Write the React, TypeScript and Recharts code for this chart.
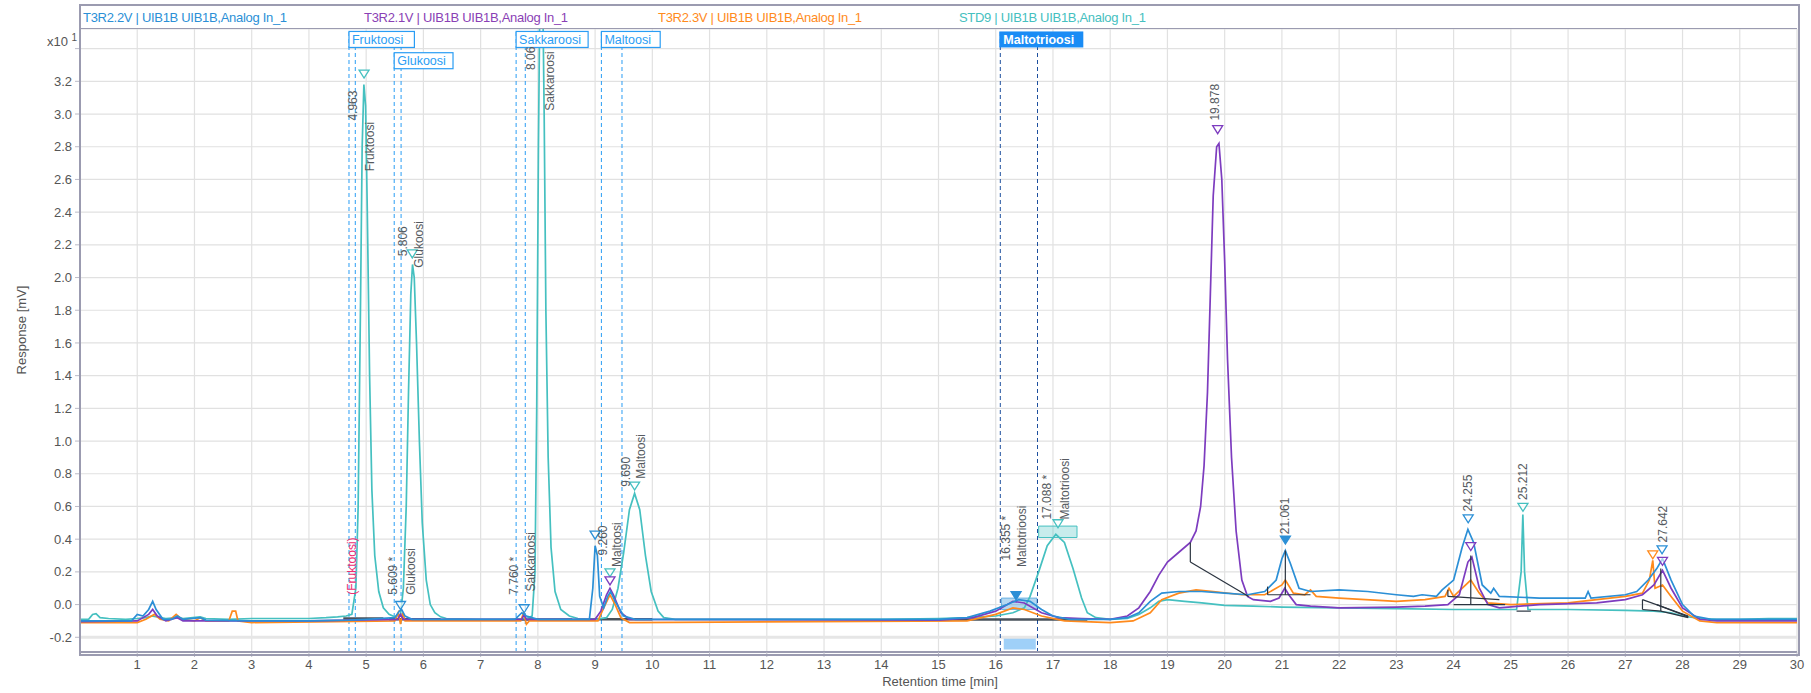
import {
  CartesianGrid,
  Line,
  LineChart,
  ReferenceArea,
  ReferenceDot,
  ReferenceLine,
  XAxis,
  YAxis,
} from "recharts";

// retention time [min], response [x10 mV]
const t3r22v: [number, number][] = [
  [0, -0.1], [0.9, -0.1], [1.0, -0.06], [1.1, -0.07], [1.2, -0.03], [1.27, 0.02], [1.33, -0.03],
  [1.45, -0.09], [1.6, -0.09], [1.7, -0.07], [1.8, -0.09], [2.1, -0.08], [2.2, -0.095], [3, -0.1],
  [4, -0.1], [4.7, -0.095], [5.0, -0.09], [5.5, -0.08], [5.58, -0.04], [5.62, -0.03], [5.68, -0.07],
  [5.8, -0.09], [7.6, -0.09], [7.72, -0.05], [7.8, -0.07], [8.0, -0.09], [8.9, -0.09], [8.96, 0.1],
  [9.0, 0.36], [9.04, 0.3], [9.08, 0.05], [9.15, -0.02], [9.22, 0.05], [9.27, 0.08], [9.35, 0.02],
  [9.5, -0.07], [9.7, -0.09], [15, -0.09], [15.5, -0.08], [15.9, -0.04], [16.2, 0.0], [16.4, 0.03],
  [16.6, 0.02], [16.8, -0.03], [17.0, -0.07], [17.3, -0.09], [18.0, -0.09], [18.3, -0.08],
  [18.5, -0.05], [18.7, 0.02], [18.9, 0.07], [19.2, 0.08], [19.6, 0.08], [20.0, 0.07], [20.4, 0.06],
  [20.7, 0.08], [20.9, 0.15], [21.0, 0.28], [21.06, 0.33], [21.15, 0.25], [21.3, 0.1], [21.5, 0.08],
  [22, 0.09], [22.5, 0.08], [23, 0.06], [23.3, 0.05], [23.45, 0.06], [23.7, 0.05], [23.8, 0.09],
  [24.0, 0.15], [24.15, 0.35], [24.25, 0.46], [24.35, 0.38], [24.5, 0.12], [24.65, 0.07], [24.7, 0.1],
  [24.8, 0.05], [25.5, 0.04], [26.3, 0.04], [26.35, 0.08], [26.4, 0.04], [27.0, 0.06], [27.2, 0.08],
  [27.4, 0.15], [27.55, 0.22], [27.65, 0.28], [27.8, 0.15], [28.0, 0.0], [28.2, -0.07], [28.5, -0.09],
  [30, -0.09],
];

const t3r21v: [number, number][] = [
  [0, -0.105], [1.0, -0.1], [1.2, -0.06], [1.27, -0.03], [1.35, -0.07], [1.5, -0.1], [1.7, -0.08],
  [1.8, -0.1], [4, -0.1], [5.55, -0.09], [5.6, -0.06], [5.65, -0.09], [7.72, -0.09], [7.76, -0.06],
  [7.8, -0.09], [9.0, -0.09], [9.1, -0.04], [9.2, 0.06], [9.26, 0.1], [9.32, 0.06], [9.45, -0.05],
  [9.6, -0.09], [15, -0.095], [15.6, -0.08], [16.0, -0.04], [16.3, 0.02], [16.5, 0.01], [16.8, -0.05],
  [17.1, -0.08], [17.5, -0.085], [18.0, -0.09], [18.3, -0.07], [18.5, -0.02], [18.7, 0.08],
  [18.85, 0.18], [19.0, 0.26], [19.2, 0.32], [19.4, 0.38], [19.5, 0.45], [19.58, 0.6], [19.64, 0.85],
  [19.7, 1.3], [19.75, 1.9], [19.8, 2.5], [19.86, 2.8], [19.9, 2.82], [19.95, 2.6], [20.0, 2.1],
  [20.05, 1.5], [20.12, 0.9], [20.2, 0.45], [20.3, 0.15], [20.4, 0.05], [20.5, 0.03], [20.8, 0.02],
  [20.95, 0.04], [21.05, 0.1], [21.12, 0.06], [21.25, 0.0], [21.5, -0.01], [22, -0.02], [23, -0.015],
  [23.5, -0.01], [23.9, 0.0], [24.1, 0.06], [24.25, 0.26], [24.32, 0.29], [24.45, 0.1], [24.6, 0.0],
  [24.8, -0.02], [25.5, 0.0], [26.5, 0.01], [27.0, 0.03], [27.3, 0.06], [27.5, 0.12], [27.65, 0.21],
  [27.8, 0.1], [28.0, -0.02], [28.3, -0.09], [28.6, -0.1], [30, -0.1],
];

const t3r23v: [number, number][] = [
  [0, -0.11], [1.0, -0.11], [1.15, -0.09], [1.3, -0.06], [1.4, -0.09], [1.55, -0.1], [1.68, -0.06],
  [1.78, -0.09], [2.0, -0.1], [2.1, -0.08], [2.2, -0.1], [2.6, -0.1], [2.66, -0.04], [2.72, -0.04],
  [2.76, -0.1], [3.0, -0.11], [5.5, -0.1], [5.56, -0.05], [5.6, -0.12], [5.64, -0.05], [5.68, -0.1],
  [7.7, -0.1], [7.75, -0.05], [7.8, -0.12], [7.85, -0.1], [9.05, -0.1], [9.15, -0.02], [9.26, 0.06],
  [9.35, 0.0], [9.45, -0.08], [9.6, -0.11], [15.5, -0.1], [16.0, -0.06], [16.3, -0.02], [16.5, -0.03],
  [16.8, -0.07], [17.2, -0.1], [18.0, -0.11], [18.4, -0.1], [18.7, -0.05], [18.9, 0.03], [19.2, 0.07],
  [19.5, 0.09], [19.8, 0.08], [20.3, 0.06], [20.7, 0.06], [21.0, 0.12], [21.06, 0.15], [21.2, 0.07],
  [21.4, 0.06], [21.5, 0.09], [21.6, 0.05], [22, 0.04], [23, 0.02], [23.5, 0.03], [23.85, 0.05],
  [23.92, 0.1], [24.0, 0.05], [24.3, 0.15], [24.45, 0.07], [24.6, 0.01], [25, 0.0], [26, 0.01],
  [27.0, 0.05], [27.3, 0.07], [27.42, 0.15], [27.48, 0.27], [27.52, 0.1], [27.65, 0.12], [27.8, 0.05],
  [28.0, -0.04], [28.3, -0.1], [28.6, -0.11], [30, -0.11],
];

const std9: [number, number][] = [
  [0, -0.09], [0.15, -0.09], [0.22, -0.06], [0.28, -0.055], [0.35, -0.08], [0.5, -0.085], [0.8, -0.09],
  [1.0, -0.085], [1.15, -0.08], [1.25, -0.07], [1.35, -0.075], [1.5, -0.085], [1.7, -0.08], [1.8, -0.085],
  [2.1, -0.075], [2.2, -0.085], [2.6, -0.09], [3.0, -0.085], [4.0, -0.085], [4.3, -0.08], [4.5, -0.075],
  [4.65, -0.07], [4.75, -0.06], [4.82, 0.1], [4.86, 0.6], [4.9, 1.8], [4.93, 2.8], [4.96, 3.18],
  [4.99, 3.05], [5.02, 2.4], [5.06, 1.4], [5.1, 0.7], [5.15, 0.3], [5.22, 0.08], [5.3, -0.02],
  [5.4, -0.06], [5.5, -0.075], [5.6, -0.06], [5.65, 0.1], [5.7, 0.6], [5.74, 1.3], [5.78, 1.9],
  [5.81, 2.08], [5.84, 2.0], [5.88, 1.6], [5.93, 1.0], [5.98, 0.5], [6.05, 0.15], [6.12, 0.0],
  [6.2, -0.05], [6.3, -0.075], [6.4, -0.085], [7.0, -0.09], [7.5, -0.09], [7.8, -0.085], [7.9, -0.07],
  [7.95, 0.2], [7.98, 1.2], [8.01, 2.8], [8.04, 3.9], [8.08, 3.9], [8.11, 3.0], [8.14, 1.8], [8.18, 0.9],
  [8.23, 0.35], [8.3, 0.08], [8.4, -0.03], [8.55, -0.07], [8.7, -0.085], [9.0, -0.09], [9.2, -0.08],
  [9.3, -0.03], [9.4, 0.1], [9.5, 0.32], [9.6, 0.58], [9.69, 0.68], [9.78, 0.58], [9.88, 0.3],
  [9.98, 0.08], [10.1, -0.04], [10.2, -0.08], [10.4, -0.09], [11, -0.09], [12, -0.09], [13, -0.09],
  [14, -0.09], [15, -0.085], [15.5, -0.08], [16.0, -0.07], [16.3, -0.05], [16.5, -0.02], [16.6, 0.05],
  [16.75, 0.2], [16.9, 0.36], [17.05, 0.43], [17.2, 0.38], [17.35, 0.22], [17.5, 0.04], [17.6, -0.05],
  [17.75, -0.08], [18, -0.09], [18.3, -0.085], [18.5, -0.06], [18.7, -0.02], [18.85, 0.02], [19.0, 0.03],
  [19.3, 0.02], [19.6, 0.01], [20.0, -0.005], [20.5, -0.01], [21.0, -0.015], [22, -0.02], [23, -0.025],
  [24, -0.03], [25.1, -0.03], [25.18, 0.2], [25.21, 0.55], [25.24, 0.2], [25.3, -0.03], [26, -0.03],
  [27, -0.035], [27.5, -0.04], [27.8, -0.05], [28.0, -0.07], [28.3, -0.085], [28.6, -0.09], [29, -0.09],
  [29.5, -0.085], [30, -0.085],
];

const seriesNames = [
  "T3R2.2V | UIB1B UIB1B,Analog In_1",
  "T3R2.1V | UIB1B UIB1B,Analog In_1",
  "T3R2.3V | UIB1B UIB1B,Analog In_1",
  "STD9 | UIB1B UIB1B,Analog In_1",
];

const xTicks = [1, 2, 3, 4, 5, 6, 7, 8, 9, 10, 11, 12, 13, 14, 15, 16, 17, 18, 19, 20, 21, 22, 23, 24, 25, 26, 27, 28, 29, 30];
const xMinorTicks = [0.5, 1.5, 2.5, 3.5, 4.5, 5.5, 6.5, 7.5, 8.5, 9.5, 10.5, 11.5, 12.5, 13.5, 14.5, 15.5, 16.5, 17.5, 18.5, 19.5, 20.5, 21.5, 22.5, 23.5, 24.5, 25.5, 26.5, 27.5, 28.5, 29.5];
const yTicks = [-0.2, 0, 0.2, 0.4, 0.6, 0.8, 1.0, 1.2, 1.4, 1.6, 1.8, 2.0, 2.2, 2.4, 2.6, 2.8, 3.0, 3.2, 3.4];
const yMinorTicks = [-0.1, 0.1, 0.3, 0.5, 0.7, 0.9, 1.1, 1.3, 1.5, 1.7, 1.9, 2.1, 2.3, 2.5, 2.7, 2.9, 3.1, 3.3];

// compound windows: [name, from, to, row]
const windows: [string, number, number, number][] = [
  ["Fruktoosi", 4.7, 4.81, 0],
  ["Glukoosi", 5.49, 5.61, 1],
  ["Sakkaroosi", 7.62, 7.78, 0],
  ["Maltoosi", 9.11, 9.47, 0],
];
const activeWindow: [string, number, number] = ["Maltotrioosi", 16.08, 16.73];

// rotated peak labels: [text, time, response at text start, colour key]
const peakLabels: [string, number, number, string][] = [
  ["4.963", 4.77, 2.96, "gray"],
  ["Fruktoosi", 5.07, 2.65, "gray"],
  ["5.806", 5.63, 2.13, "gray"],
  ["Glukoosi", 5.91, 2.06, "gray"],
  ["8.06", 7.87, 3.27, "gray"],
  ["Sakkaroosi", 8.2, 3.02, "gray"],
  ["9.690", 9.53, 0.72, "gray"],
  ["Maltoosi", 9.79, 0.77, "gray"],
  ["9.260", 9.14, 0.3, "gray"],
  ["Maltoosi", 9.37, 0.23, "gray"],
  ["5.609 *", 5.47, 0.06, "gray"],
  ["Glukoosi", 5.77, 0.06, "gray"],
  ["7.760 *", 7.57, 0.06, "gray"],
  ["Sakkaroosi", 7.87, 0.08, "gray"],
  ["(Fruktoosi)", 4.74, 0.06, "pink"],
  ["16.355 *", 16.17, 0.27, "gray"],
  ["Maltotrioosi", 16.45, 0.23, "gray"],
  ["17.088 *", 16.89, 0.52, "gray"],
  ["Maltotrioosi", 17.2, 0.52, "gray"],
  ["19.878", 19.83, 2.96, "gray"],
  ["21.061", 21.05, 0.43, "gray"],
  ["24.255", 24.25, 0.57, "gray"],
  ["25.212", 25.21, 0.64, "gray"],
  ["27.642", 27.66, 0.38, "gray"],
];

// peak apex markers: [time, response, colour key, filled]
const peakMarkers: [number, number, string, boolean][] = [
  [4.963, 3.22, "teal", false],
  [5.806, 2.12, "teal", false],
  [9.69, 0.7, "teal", false],
  [17.088, 0.47, "teal", false],
  [25.212, 0.57, "teal", false],
  [19.878, 2.88, "purple", false],
  [24.3, 0.33, "purple", false],
  [27.65, 0.24, "purple", false],
  [21.061, 0.37, "blue", true],
  [24.255, 0.5, "blue", false],
  [27.642, 0.31, "blue", false],
  [16.355, 0.03, "blue", true],
  [9.0, 0.4, "blue", false],
  [27.48, 0.28, "orange", false],
  [5.6, -0.03, "blue", false],
  [7.76, -0.05, "blue", false],
  [9.26, 0.17, "teal", false],
  [9.26, 0.12, "purple", false],
];

// integration baselines: [t1, r1, t2, r2]
const baselines: [number, number, number, number][] = [
  [19.4, 0.38, 19.4, 0.26], [19.4, 0.26, 20.42, 0.05],
  [21.06, 0.33, 21.06, 0.06], [20.75, 0.06, 21.5, 0.06], [20.75, 0.06, 20.75, 0.11],
  [24.3, 0.3, 24.3, 0.0], [23.9, 0.05, 24.8, 0.03], [24.0, 0.0, 24.9, 0.0], [23.9, 0.05, 23.9, 0.09],
  [25.1, -0.04, 25.35, -0.04],
  [27.62, 0.22, 27.62, -0.04], [27.3, 0.03, 27.3, -0.03], [27.3, -0.03, 27.62, -0.04],
  [27.3, 0.03, 28.1, -0.07], [27.62, -0.04, 28.1, -0.08], [27.55, 0.0, 28.1, -0.075],
];
const baseBands: [number, number, number][] = [
  [4.6, 5.3, -0.085], [5.4, 6.3, -0.09], [7.6, 8.6, -0.092], [8.9, 10.0, -0.09], [15.0, 17.6, -0.092],
];

const colors: Record<string, string> = {
  blue: "#2b8fd6",
  purple: "#7d3cbf",
  orange: "#ff8a1c",
  teal: "#45c0c0",
  gray: "#555a60",
  pink: "#ee2f72",
};
const legendColors = [colors.blue, "#8a3fb5", colors.orange, colors.teal];
const boxBlue = "#2a9df4";
const font = "'Liberation Sans', Arial, sans-serif";

const rows = (s: [number, number][]) => s.map(([t, v]) => ({ t, v }));

const W = 1811;
const H = 693;
const plotLeft = 80;
const plotRight = 1797;
const plotTop = 29;
const plotBottom = 652;

export default function App() {
  return (
    <div style={{ position: "relative", width: W, height: H, fontFamily: font, background: "#fff" }}>
      <style>{"body{margin:0}"}</style>
      <LineChart
        width={W}
        height={H}
        margin={{ top: plotTop, right: W - plotRight, bottom: 11, left: plotLeft - 60 }}
      >
        <CartesianGrid stroke="#e1e1e1" strokeWidth={1.2} />
        <XAxis
          dataKey="t"
          type="number"
          domain={[0, 30]}
          ticks={xTicks}
          height={30}
          tickSize={5}
          tickMargin={3}
          allowDataOverflow
          axisLine={{ stroke: "#9b9bb0", strokeWidth: 2 }}
          tickLine={{ stroke: "#bbbbc8" }}
          tick={{ fill: "#555", fontSize: 13, fontFamily: font }}
        />
        <XAxis
          xAxisId="minor"
          dataKey="t"
          type="number"
          domain={[0, 30]}
          ticks={xMinorTicks}
          height={0}
          tickSize={4}
          tick={false}
          axisLine={false}
          tickLine={{ stroke: "#bbbbc8" }}
        />
        <YAxis
          type="number"
          domain={[-0.29, 3.52]}
          ticks={yTicks}
          width={60}
          allowDataOverflow
          tickSize={5}
          tickMargin={3}
          axisLine={{ stroke: "#9b9bb0", strokeWidth: 2 }}
          tickLine={{ stroke: "#bbbbc8" }}
          tickFormatter={(v: number) => (v > 3.3 ? "" : v.toFixed(1))}
          tick={{ fill: "#555", fontSize: 13, fontFamily: font }}
        />
        <YAxis
          yAxisId="minor"
          type="number"
          domain={[-0.29, 3.52]}
          ticks={yMinorTicks}
          width={0}
          tickSize={3}
          tick={false}
          axisLine={false}
          tickLine={{ stroke: "#bbbbc8" }}
        />
        <ReferenceLine y={-0.2} stroke="#e6e6e6" strokeWidth={3} />

        {windows.map(([name, from, to]) => [
          <ReferenceLine key={name + "a"} x={from} stroke={boxBlue} strokeDasharray="4 3" />,
          <ReferenceLine key={name + "b"} x={to} stroke={boxBlue} strokeDasharray="4 3" />,
        ])}
        <ReferenceLine x={activeWindow[1]} stroke="#1d4f9e" strokeDasharray="4 3" />
        <ReferenceLine x={activeWindow[2]} stroke="#1d4f9e" strokeDasharray="4 3" />

        <ReferenceArea x1={16.14} x2={16.7} y1={-0.275} y2={-0.2} fill="#9fd0f8" fillOpacity={1} stroke="none" />
        <ReferenceArea x1={16.1} x2={16.72} y1={-0.03} y2={0.04} fill={colors.blue} fillOpacity={0.35} stroke={colors.blue} strokeOpacity={0.6} />
        <ReferenceArea x1={16.75} x2={17.42} y1={0.41} y2={0.48} fill={colors.teal} fillOpacity={0.3} stroke={colors.teal} />

        {baseBands.map(([a, b, y], i) => (
          <ReferenceLine key={"band" + i} segment={[{ x: a, y }, { x: b, y }]} stroke="#1c2733" strokeWidth={2.5} strokeOpacity={0.8} />
        ))}

        <Line data={rows(std9)} dataKey="v" type="linear" stroke={colors.teal} strokeWidth={1.7} dot={false} isAnimationActive={false} />
        <Line data={rows(t3r23v)} dataKey="v" type="linear" stroke={colors.orange} strokeWidth={1.7} dot={false} isAnimationActive={false} />
        <Line data={rows(t3r21v)} dataKey="v" type="linear" stroke={colors.purple} strokeWidth={1.7} dot={false} isAnimationActive={false} />
        <Line data={rows(t3r22v)} dataKey="v" type="linear" stroke={colors.blue} strokeWidth={1.7} dot={false} isAnimationActive={false} />

        {baselines.map(([t1, r1, t2, r2], i) => (
          <ReferenceLine key={"bl" + i} segment={[{ x: t1, y: r1 }, { x: t2, y: r2 }]} stroke="#2b3440" strokeWidth={1.2} />
        ))}

        {peakMarkers.map(([t, v, c, filled], i) => (
          <ReferenceDot
            key={"pm" + i}
            x={t}
            y={v}
            r={0}
            ifOverflow="visible"
            shape={(p: any) => (
              <path
                d={`M${p.cx - 5},${p.cy - 8}L${p.cx + 5},${p.cy - 8}L${p.cx},${p.cy}Z`}
                fill={filled ? colors[c] : "#fff"}
                fillOpacity={filled ? 1 : 0.6}
                stroke={colors[c]}
                strokeWidth={1.3}
              />
            )}
          />
        ))}

        {windows.map(([name, from, , row]) => (
          <ReferenceDot
            key={"box" + name}
            x={from}
            y={3.505 - row * 0.13}
            r={0}
            ifOverflow="visible"
            shape={(p: any) => (
              <g>
                <rect x={p.cx} y={p.cy} width={name.length * 6.6 + 6} height={16} fill="#fff" stroke={boxBlue} strokeWidth={1.2} />
                <text x={p.cx + 3} y={p.cy + 12.5} fontSize={12.5} fontFamily={font} fill={boxBlue}>
                  {name}
                </text>
              </g>
            )}
          />
        ))}
        <ReferenceDot
          x={activeWindow[1]}
          y={3.505}
          r={0}
          ifOverflow="visible"
          shape={(p: any) => (
            <g>
              <rect x={p.cx - 1} y={p.cy} width={84} height={16} fill="#1a8cf5" />
              <text x={p.cx + 3} y={p.cy + 12.5} fontSize={12.5} fontWeight="bold" fontFamily={font} fill="#fff">
                {activeWindow[0]}
              </text>
            </g>
          )}
        />

        {peakLabels.map(([text, t, v, c], i) => (
          <ReferenceDot
            key={"pl" + i}
            x={t}
            y={v}
            r={0}
            ifOverflow="visible"
            shape={(p: any) => (
              <text
                x={p.cx}
                y={p.cy}
                dy="0.36em"
                transform={`rotate(-90 ${p.cx} ${p.cy})`}
                fontSize={12}
                fontFamily={font}
                fill={colors[c]}
              >
                {text}
              </text>
            )}
          />
        ))}
      </LineChart>

      {/* frame and legend band */}
      <div
        style={{
          position: "absolute",
          left: plotLeft - 1,
          top: 4,
          width: plotRight - plotLeft,
          height: plotBottom - 4,
          border: "2px solid #9b9bb0",
          pointerEvents: "none",
        }}
      />
      <div style={{ position: "absolute", left: plotLeft, top: plotTop - 1, width: plotRight - plotLeft, height: 0, borderTop: "1.5px solid #9b9bb0" }} />
      {seriesNames.map((n, i) => (
        <div
          key={n}
          style={{
            position: "absolute",
            left: [83, 364, 658, 959][i],
            top: 10,
            fontSize: 13,
            color: legendColors[i],
            whiteSpace: "nowrap",
            letterSpacing: -0.3,
          }}
        >
          {n}
        </div>
      ))}
      <div style={{ position: "absolute", left: 47, top: 32, fontSize: 13, color: "#555" }}>
        x10 <sup style={{ fontSize: 10 }}>1</sup>
      </div>
      <div
        style={{
          position: "absolute",
          left: 21,
          top: 330,
          fontSize: 13,
          color: "#555",
          whiteSpace: "nowrap",
          transform: "translate(-50%, -50%) rotate(-90deg)",
        }}
      >
        Response [mV]
      </div>
      <div
        style={{
          position: "absolute",
          left: 940,
          top: 681,
          fontSize: 13,
          color: "#555",
          whiteSpace: "nowrap",
          transform: "translate(-50%, -50%)",
        }}
      >
        Retention time [min]
      </div>
    </div>
  );
}
